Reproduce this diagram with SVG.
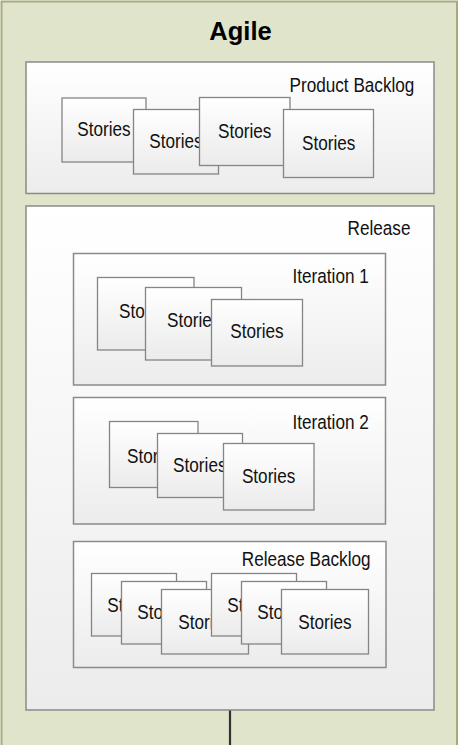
<svg xmlns="http://www.w3.org/2000/svg" width="460" height="745" viewBox="0 0 460 745">
<defs>
<linearGradient id="gbox" x1="0" y1="0" x2="0" y2="1"><stop offset="0" stop-color="#ffffff"/><stop offset="1" stop-color="#ececec"/></linearGradient>
<linearGradient id="gcard" x1="0" y1="0" x2="0" y2="1"><stop offset="0" stop-color="#ffffff"/><stop offset="1" stop-color="#ebebeb"/></linearGradient>
</defs>
<style>
.frame{fill:#dfe4cb;stroke:#a9a97c;stroke-width:2}
.box{fill:url(#gbox);stroke:#8a8a8a;stroke-width:1.5}
.card{fill:url(#gcard);stroke:#858585;stroke-width:1.3}
.t{font-family:"Liberation Sans",Arial,sans-serif;font-size:19.5px;fill:#111}
.c{text-anchor:middle}
.title{font-family:"Liberation Sans",Arial,sans-serif;font-size:25.5px;font-weight:bold;fill:#000;text-anchor:middle}
.conn{stroke:#333;stroke-width:2.2;fill:none}
</style>
<g id="agile">
<rect class="frame" x="1.5" y="1.5" width="455.5" height="770"/>
<text class="title" x="240.5" y="40">Agile</text>
</g>
<g id="connectors">
<line class="conn" x1="230" y1="710" x2="230" y2="746"/>
</g>
<g id="product-backlog">
<rect class="box" x="26" y="62" width="408" height="131.5"/>
<text class="t" transform="translate(289.5 92.3) scale(0.88 1)">Product Backlog</text>
<rect class="card" x="62" y="98" width="84" height="64"/>
<text class="t c" transform="translate(104 136) scale(0.88 1)">Stories</text>
<rect class="card" x="133.5" y="109.5" width="85" height="64.5"/>
<text class="t c" transform="translate(176 147.7) scale(0.88 1)">Stories</text>
<rect class="card" x="199.5" y="97.5" width="90.5" height="68"/>
<text class="t c" transform="translate(244.7 137.7) scale(0.88 1)">Stories</text>
<rect class="card" x="283.5" y="109.5" width="90" height="68"/>
<text class="t c" transform="translate(328.7 150) scale(0.88 1)">Stories</text>
</g>
<g id="release">
<rect class="box" x="26" y="206" width="408" height="504"/>
<text class="t" transform="translate(347.5 235) scale(0.88 1)">Release</text>
</g>
<g id="iteration-1">
<rect class="box" x="73.5" y="253.5" width="312" height="131.5"/>
<text class="t" transform="translate(292.5 283) scale(0.88 1)">Iteration 1</text>
<rect class="card" x="97.5" y="277.5" width="96.5" height="72.5"/>
<text class="t c" transform="translate(145.8 318.3) scale(0.88 1)">Stories</text>
<rect class="card" x="145.5" y="287.5" width="96" height="72.5"/>
<text class="t c" transform="translate(193.7 327.3) scale(0.88 1)">Stories</text>
<rect class="card" x="211.5" y="299.5" width="91" height="66.5"/>
<text class="t c" transform="translate(257 338.3) scale(0.88 1)">Stories</text>
</g>
<g id="iteration-2">
<rect class="box" x="73.5" y="397.5" width="312" height="126.5"/>
<text class="t" transform="translate(292.5 429) scale(0.88 1)">Iteration 2</text>
<rect class="card" x="109.5" y="421.5" width="88.5" height="66"/>
<text class="t c" transform="translate(153.7 463.3) scale(0.88 1)">Stories</text>
<rect class="card" x="157.5" y="433.5" width="85" height="64"/>
<text class="t c" transform="translate(199.8 472.3) scale(0.88 1)">Stories</text>
<rect class="card" x="223.5" y="443.5" width="90.5" height="66.5"/>
<text class="t c" transform="translate(268.6 482.7) scale(0.88 1)">Stories</text>
</g>
<g id="release-backlog">
<rect class="box" x="73.5" y="541.5" width="312.5" height="126"/>
<text class="t" transform="translate(241.8 565.7) scale(0.88 1)">Release Backlog</text>
<rect class="card" x="91.5" y="573.5" width="85" height="62.5"/>
<text class="t c" transform="translate(134 611.7) scale(0.88 1)">Stories</text>
<rect class="card" x="121.5" y="581.5" width="85" height="62.5"/>
<text class="t c" transform="translate(164 619.3) scale(0.88 1)">Stories</text>
<rect class="card" x="161.5" y="589.5" width="87" height="64.5"/>
<text class="t c" transform="translate(205 629.3) scale(0.88 1)">Stories</text>
<rect class="card" x="211.5" y="573.5" width="85" height="62.5"/>
<text class="t c" transform="translate(254 611.7) scale(0.88 1)">Stories</text>
<rect class="card" x="241.5" y="581.5" width="85" height="62.5"/>
<text class="t c" transform="translate(284 619.3) scale(0.88 1)">Stories</text>
<rect class="card" x="281.5" y="589.5" width="87" height="64.5"/>
<text class="t c" transform="translate(325 629.3) scale(0.88 1)">Stories</text>
</g>
</svg>
